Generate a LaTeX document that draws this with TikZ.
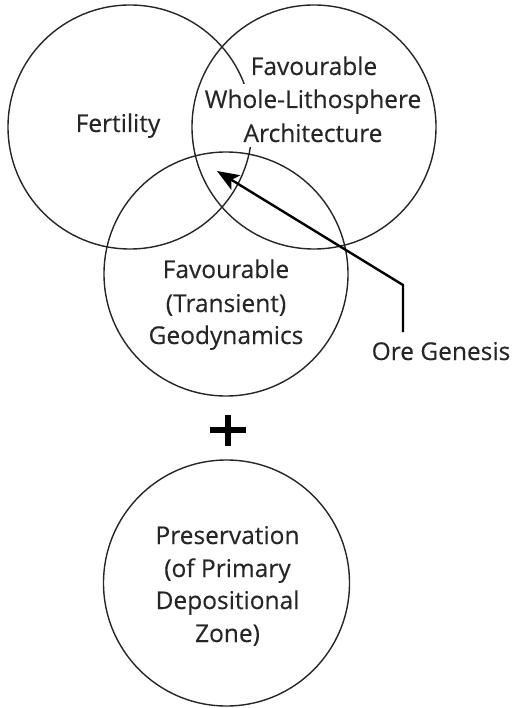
\documentclass[tikz,border=0pt]{standalone}
\usepackage{fontspec}
\setmainfont{Open Sans}[FakeBold=0.3]
\usetikzlibrary{arrows.meta}
\definecolor{ink}{HTML}{262626}
\tikzset{
  circ/.style={circle, draw=ink, line width=1.4pt, minimum size=#1, inner sep=0pt},
  lbl/.style={text=ink, font=\fontsize{24.5}{33.5}\selectfont, inner sep=0pt, anchor=base},
  wlbl/.style={lbl, fill=white, inner xsep=1.5pt, inner ysep=5pt},
  arr/.style={line width=2.4pt, black, -{Stealth[length=22pt, width=17pt, inset=5pt]}}
}
\begin{document}
\begin{tikzpicture}[x=1pt, y=-1pt]
\useasboundingbox (0,0) rectangle (514,708);
% circles
\node[circ=244pt] (fert) at (130,127) {};
\node[circ=244pt] (arch) at (314,127) {};
\node[circ=244pt] (geo)  at (226,274) {};
\node[circ=246pt] (pres) at (226.5,583) {};
% labels
\node[lbl] (tfert) at (118,132) {Fertility};
\node[wlbl] (ta1) at (314,75) {Favourable};
\node[wlbl] (ta2) at (313,108) {Whole-Lithosphere};
\node[wlbl] (ta3) at (313,142) {Architecture};
\node[lbl] (tg1) at (226,278) {Favourable};
\node[lbl] (tg2) at (226,312) {(Transient)};
\node[lbl] (tg3) at (226,344) {Geodynamics};
\node[lbl] (tp1) at (227.5,544) {Preservation};
\node[lbl] (tp2) at (227.5,577) {(of Primary};
\node[lbl] (tp3) at (227.5,609) {Depositional};
\node[lbl] (tp4) at (227.5,642) {Zone)};
\node[lbl] (ore) at (441,360) {Ore Genesis};
% plus
\node[inner sep=0pt] (plus) at (228,430) {\tikz[x=1pt,y=1pt]{\fill[black] (-18,-2.6) rectangle (18,2.6); \fill[black] (-2.6,-15.5) rectangle (2.6,15.5);}};
% arrow
\coordinate (start) at (403,332);
\coordinate (bend) at (403,285);
\coordinate (tip) at (217,171);
\draw[arr, line join=miter] (start) -- (bend) -- (tip);
\end{tikzpicture}
\end{document}
